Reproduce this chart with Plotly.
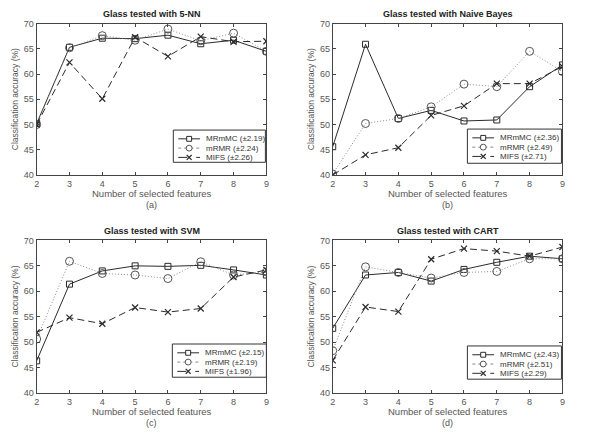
import plotly.graph_objects as go

features = [2, 3, 4, 5, 6, 7, 8, 9]

titles = ["Glass tested with 5-NN", "Glass tested with Naive Bayes",
          "Glass tested with SVM", "Glass tested with CART"]
panel_labels = ["(a)", "(b)", "(c)", "(d)"]

# 5-NN
knn_mrmmc = [50.2, 65.3, 67.1, 67.0, 67.7, 66.0, 66.7, 64.5]
knn_mrmr = [50.0, 65.2, 67.6, 66.7, 68.9, 66.6, 68.1, 64.5]
knn_mifs = [50.0, 62.3, 55.1, 67.3, 63.5, 67.4, 66.4, 66.5]
# Naive Bayes
nb_mrmmc = [45.6, 65.9, 51.2, 52.8, 50.7, 50.9, 57.5, 61.8]
nb_mrmr = [40.2, 50.2, 51.2, 53.5, 58.0, 57.5, 64.5, 60.5]
nb_mifs = [40.0, 44.0, 45.4, 51.8, 53.7, 58.1, 58.1, 61.5]
# SVM
svm_mrmmc = [46.3, 61.4, 64.0, 65.0, 64.9, 65.1, 64.2, 63.2]
svm_mrmr = [50.6, 65.9, 63.5, 63.2, 62.5, 65.8, 63.2, 63.8]
svm_mifs = [51.9, 54.8, 53.6, 56.8, 55.9, 56.6, 62.8, 64.2]
# CART
cart_mrmmc = [52.7, 63.2, 63.7, 62.0, 64.3, 65.7, 66.9, 66.4]
cart_mrmr = [48.3, 64.8, 63.7, 62.6, 63.7, 63.9, 66.4, 66.4]
cart_mifs = [46.4, 56.9, 56.0, 66.3, 68.4, 67.9, 66.9, 68.7]

legend_names = [
    ["MRmMC (\u00b12.19)", "mRMR (\u00b12.24)", "MIFS (\u00b12.26)"],
    ["MRmMC (\u00b12.36)", "mRMR (\u00b12.49)", "MIFS (\u00b12.71)"],
    ["MRmMC (\u00b12.15)", "mRMR (\u00b12.19)", "MIFS (\u00b11.96)"],
    ["MRmMC (\u00b12.43)", "mRMR (\u00b12.51)", "MIFS (\u00b12.29)"],
]
series = [
    [knn_mrmmc, knn_mrmr, knn_mifs],
    [nb_mrmmc, nb_mrmr, nb_mifs],
    [svm_mrmmc, svm_mrmr, svm_mifs],
    [cart_mrmmc, cart_mrmr, cart_mifs],
]

W, H = 609, 434
# plot area pixel boxes (left, right, top, bottom)
boxes = [(34, 266, 19, 174), (333, 565, 19, 174),
         (34, 266, 241, 397), (333, 565, 241, 397)]
# legend boxes (left, top, right, bottom) in pixels
legend_boxes = [(172, 128, 265, 161), (469, 127, 564, 162),
                (171, 347, 266, 381), (469, 349, 564, 383)]

DARK = "#2b2b2b"
LIGHT = "#8a8a8a"
line_colors = [DARK, LIGHT, DARK]
dashes = ["solid", "1px,2px", "7px,4px"]
styles = [
    dict(line=dict(color=DARK, width=1, dash=dashes[0]),
         marker=dict(symbol="square-open", size=6, color=DARK, line=dict(width=1))),
    dict(line=dict(color=LIGHT, width=1, dash=dashes[1]),
         marker=dict(symbol="circle-open", size=8, color="#555555", line=dict(width=1))),
    dict(line=dict(color=DARK, width=1, dash=dashes[2]),
         marker=dict(symbol="x-thin-open", size=6, color=DARK, line=dict(width=1.2))),
]
shape_dash = ["solid", "dot", "dash"]

FONT = "Liberation Sans, Arial, sans-serif"
fig = go.Figure()
layout = dict(width=W, height=H, margin=dict(l=0, r=0, t=0, b=0),
              paper_bgcolor="white", plot_bgcolor="white",
              font=dict(family=FONT, color="#444444"), showlegend=False)
annotations = []
shapes = []


def px(x):
    return x / W


def py(y):
    return 1 - y / H


for i in range(4):
    ax = "" if i == 0 else str(i + 1)
    for j in range(3):
        fig.add_trace(go.Scatter(
            x=features, y=series[i][j], mode="lines+markers",
            name=legend_names[i][j], xaxis="x" + ax, yaxis="y" + ax,
            **styles[j]))
    l, r, t, b = boxes[i]
    axis_common = dict(showgrid=False, zeroline=False, showline=True,
                       linecolor="#444444", linewidth=1, mirror="ticks",
                       ticks="inside", ticklen=3, tickcolor="#444444",
                       tickfont=dict(size=9, color="#555555", family=FONT))
    layout["xaxis" + ax] = dict(domain=[px(l), px(r)], range=[2, 9], dtick=1,
                                anchor="y" + ax, **axis_common)
    layout["yaxis" + ax] = dict(domain=[py(b), py(t)], range=[40, 70], dtick=5,
                                anchor="x" + ax, **axis_common)
    cx = (l + r) / 2
    common = dict(xref="paper", yref="paper", showarrow=False,
                  xanchor="center", yanchor="middle")
    annotations.append(dict(text="<b>" + titles[i] + "</b>", x=px(cx), y=py(t - 10),
                            font=dict(size=9, color="#222222", family=FONT), **common))
    annotations.append(dict(text="Number of selected features", x=px(cx), y=py(b + 19),
                            font=dict(size=9.5, color="#555555", family=FONT), **common))
    annotations.append(dict(text=panel_labels[i], x=px(cx), y=py(b + 31),
                            font=dict(size=9, color="#555555", family=FONT), **common))
    annotations.append(dict(text="Classification accuracy (%)", x=px(l - 22),
                            y=py((t + b) / 2), textangle=-90,
                            font=dict(size=8.5, color="#555555", family=FONT), **common))

    # legend box
    bl, bt, br, bb = legend_boxes[i]
    shapes.append(dict(type="rect", xref="paper", yref="paper",
                       x0=px(bl), x1=px(br), y0=py(bb), y1=py(bt),
                       fillcolor="white", line=dict(color="#333333", width=1)))
    for j in range(3):
        ry = bt + 9 + j * 9.5
        x0, x1 = bl + 5, bl + 27
        mx = (x0 + x1) / 2
        shapes.append(dict(type="line", xref="paper", yref="paper",
                           x0=px(x0), x1=px(x1), y0=py(ry), y1=py(ry),
                           line=dict(color=line_colors[j], width=1, dash=shape_dash[j])))
        if j == 0:
            shapes.append(dict(type="rect", xref="paper", yref="paper",
                               x0=px(mx - 2.5), x1=px(mx + 2.5), y0=py(ry + 2.5), y1=py(ry - 2.5),
                               fillcolor="white", line=dict(color=DARK, width=1)))
        elif j == 1:
            shapes.append(dict(type="circle", xref="paper", yref="paper",
                               x0=px(mx - 3), x1=px(mx + 3), y0=py(ry + 3), y1=py(ry - 3),
                               fillcolor="white", line=dict(color="#555555", width=1)))
        else:
            shapes.append(dict(type="line", xref="paper", yref="paper",
                               x0=px(mx - 2.5), x1=px(mx + 2.5), y0=py(ry - 2.5), y1=py(ry + 2.5),
                               line=dict(color=DARK, width=1.2)))
            shapes.append(dict(type="line", xref="paper", yref="paper",
                               x0=px(mx - 2.5), x1=px(mx + 2.5), y0=py(ry + 2.5), y1=py(ry - 2.5),
                               line=dict(color=DARK, width=1.2)))
        annotations.append(dict(text=legend_names[i][j], x=px(bl + 31), y=py(ry),
                                xref="paper", yref="paper", showarrow=False,
                                xanchor="left", yanchor="middle",
                                font=dict(size=8, color="#333333", family=FONT)))

layout["annotations"] = annotations
layout["shapes"] = shapes
fig.update_layout(**layout)
fig.write_html("out.html")
